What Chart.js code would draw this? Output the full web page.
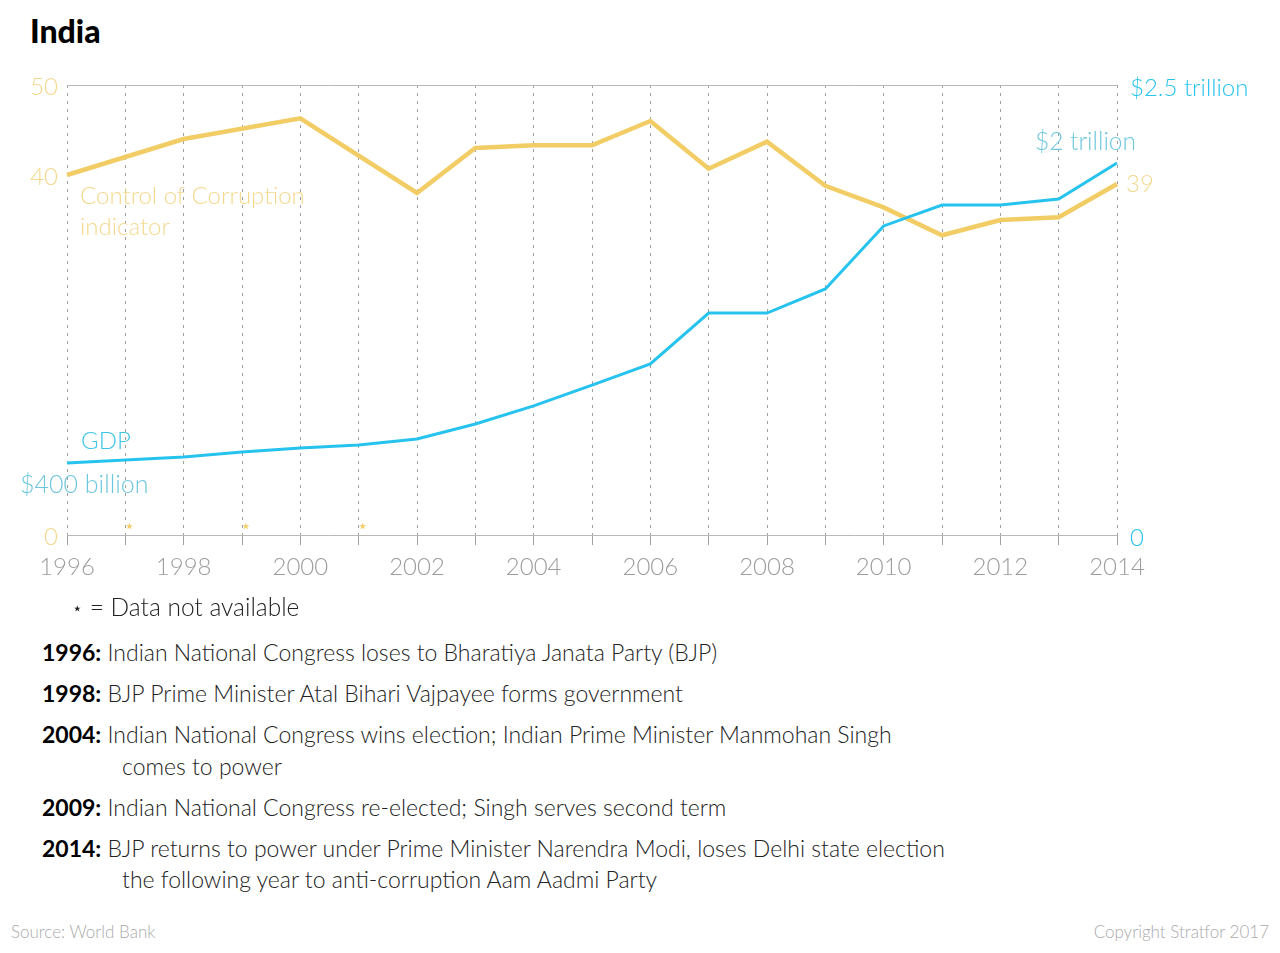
<!DOCTYPE html>
<html>
<head>
<meta charset="utf-8">
<script src="https://cdn.jsdelivr.net/npm/chart.js@4"></script>
<style>
  body { margin: 0; background: #fff; width: 1280px; height: 953px; position: relative; overflow: hidden;
         font-family: "Lato", "Open Sans", sans-serif; font-weight: 300; color: #222; }
  #title { position: absolute; left: 30px; top: 11px; font-size: 32px; font-weight: 900; color: #000; }
  #wrap { position: absolute; left: 0; top: 0; width: 1280px; height: 600px; }
  .line { position: absolute; left: 42px; font-size: 23px; line-height: 30px; white-space: nowrap; color: #222; }
  .line b { font-weight: 700; color: #000; }
  .indent { left: 122px; }
  .foot { position: absolute; top: 921px; font-size: 17px; color: #aaa; }
</style>
</head>
<body>
<div id="title">India</div>
<div id="wrap"><canvas id="chart" width="1280" height="600"></canvas></div>

<div class="line" style="left:72px;top:592px;font-size:24.5px;"><span style="font-size:17px;position:relative;top:-2px;">⋆</span> = Data not available</div>
<div class="line" style="top:637px;"><b>1996:</b> Indian National Congress loses to Bharatiya Janata Party (BJP)</div>
<div class="line" style="top:678px;"><b>1998:</b> BJP Prime Minister Atal Bihari Vajpayee forms government</div>
<div class="line" style="top:719px;"><b>2004:</b> Indian National Congress wins election; Indian Prime Minister Manmohan Singh</div>
<div class="line indent" style="top:751px;">comes to power</div>
<div class="line" style="top:792px;"><b>2009:</b> Indian National Congress re-elected; Singh serves second term</div>
<div class="line" style="top:833px;"><b>2014:</b> BJP returns to power under Prime Minister Narendra Modi, loses Delhi state election</div>
<div class="line indent" style="top:864px;">the following year to anti-corruption Aam Aadmi Party</div>

<div class="foot" style="left:11px;">Source: World Bank</div>
<div class="foot" style="right:11px;">Copyright Stratfor 2017</div>

<script>
const years = ["1996", "1997", "1998", "1999", "2000", "2001", "2002", "2003", "2004", "2005",
               "2006", "2007", "2008", "2009", "2010", "2011", "2012", "2013", "2014"];
// Control of Corruption indicator (percentile rank); null = data not available
const corruption = [40.0, null, 44.0, null, 46.3, null, 38.0, 43.0, 43.3, 43.3,
                    46.0, 40.7, 43.7, 38.8, 36.4, 33.3, 35.0, 35.3, 39.0];
// GDP, trillions of US dollars
const gdp = [0.400, 0.417, 0.433, 0.461, 0.483, 0.500, 0.533, 0.617, 0.717, 0.833,
             0.950, 1.233, 1.233, 1.367, 1.717, 1.833, 1.833, 1.867, 2.067];
const missingYears = ["1997", "1999", "2001"];
const leftTicks = [0, 40, 50];
const rightTicks = [0, 2.5];
const rightTickLabels = ["0", "$2.5 trillion"];

const YELLOW = "#f2cd66";
const YELLOW_TEXT = "#f4d88e";
const BLUE = "#27c3ef";
const BLUE_TEXT = "#6fc7df";
const FONT = "Lato, 'Open Sans', sans-serif";

const labelsPlugin = {
    id: "labels",
    afterDatasetsDraw(chart) {
        const {ctx, scales: {x, y}} = chart;
        ctx.save();
        ctx.textBaseline = "middle";
        ctx.font = "300 24px " + FONT;

        ctx.fillStyle = YELLOW_TEXT;
        ctx.textAlign = "left";
        ctx.fillText("Control of Corruption", 80, 196);
        ctx.fillText("indicator", 80, 227);
        const last = corruption.length - 1;
        ctx.fillText(String(corruption[last]), x.getPixelForValue(last) + 9, y.getPixelForValue(corruption[last]));

        ctx.fillStyle = "#3fc4ea";
        ctx.fillText("GDP", 81, 441);
        ctx.fillStyle = BLUE_TEXT;
        ctx.font = "300 25px " + FONT;
        ctx.fillText("$400 billion", 20, 485);
        ctx.textAlign = "right";
        ctx.font = "300 24.5px " + FONT;
        ctx.fillText("$2 trillion", 1136, 142);

        // data-not-available markers
        ctx.fillStyle = YELLOW;
        ctx.textAlign = "center";
        ctx.font = "18px 'DejaVu Sans'";
        missingYears.forEach(yr => {
            ctx.fillText("⋆", x.getPixelForValue(years.indexOf(yr)) + 4, y.getPixelForValue(0) - 8);
        });
        ctx.restore();
    }
};

new Chart(document.getElementById("chart"), {
    type: "line",
    data: {
        labels: years,
        datasets: [{
            label: "GDP",
            data: gdp,
            yAxisID: "y1",
            borderColor: BLUE,
            borderWidth: 3,
            pointRadius: 0,
            tension: 0,
            order: 0
        }, {
            label: "Control of Corruption indicator",
            data: corruption,
            yAxisID: "y",
            borderColor: YELLOW,
            borderWidth: 4.5,
            pointRadius: 0,
            tension: 0,
            spanGaps: true,
            order: 1
        }]
    },
    plugins: [labelsPlugin],
    options: {
        responsive: false,
        animation: false,
        layout: {padding: {top: 85, left: 0, right: 0, bottom: 0}},
        plugins: {legend: {display: false}, tooltip: {enabled: false}},
        scales: {
            x: {
                offset: false,
                afterFit: s => { s.height = 65; },
                grid: {color: "#a0a0a0", lineWidth: 1, tickLength: 10, drawTicks: true},
                border: {display: false, dash: [3, 5]},
                ticks: {
                    autoSkip: false, maxRotation: 0, padding: 8,
                    color: "#9d9d9d", font: {family: FONT, size: 24, weight: 300},
                    callback: (v, i) => i % 2 === 0 ? years[i] : ""
                }
            },
            y: {
                position: "left",
                min: 0, max: 50,
                afterFit: s => { s.width = 67; },
                afterBuildTicks: s => { s.ticks = leftTicks.map(v => ({value: v})); },
                grid: {
                    drawTicks: false,
                    color: c => (c.tick && (c.tick.value === 0 || c.tick.value === 50)) ? "#b8b8b8" : "rgba(0,0,0,0)"
                },
                border: {display: false},
                ticks: {padding: 9, labelOffset: 2, color: YELLOW_TEXT, font: {family: FONT, size: 24, weight: 300}}
            },
            y1: {
                position: "right",
                min: 0, max: 2.5,
                afterFit: s => { s.width = 163; },
                afterBuildTicks: s => { s.ticks = rightTicks.map(v => ({value: v})); },
                grid: {display: false, drawTicks: false},
                border: {display: false},
                ticks: {
                    padding: 13, labelOffset: 3, color: BLUE, font: {family: FONT, size: 24, weight: 300},
                    callback: v => rightTickLabels[rightTicks.indexOf(v)]
                }
            }
        }
    }
});
</script>
</body>
</html>
